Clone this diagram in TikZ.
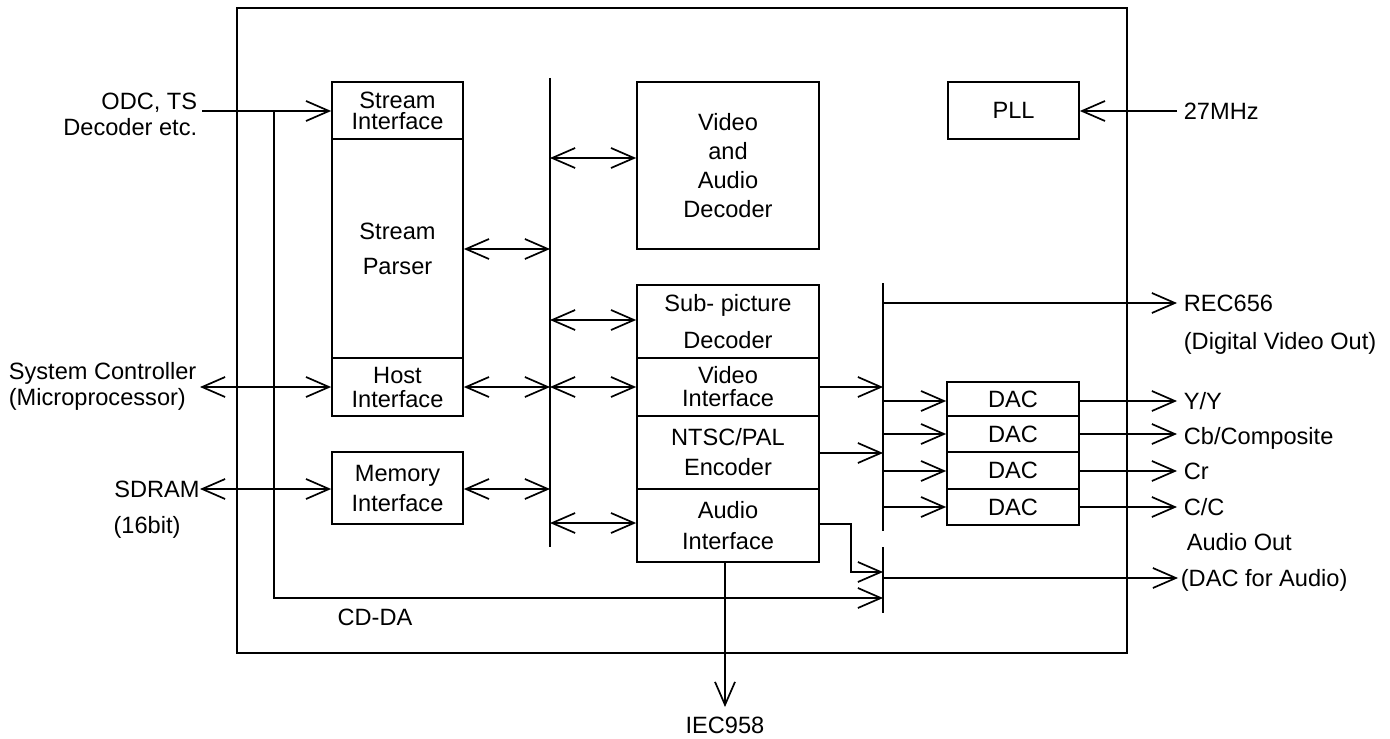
\documentclass[tikz,border=0pt]{standalone}
\usepackage{fontspec}
\setmainfont{Liberation Sans}
\usetikzlibrary{arrows.meta}
\begin{document}
\begin{tikzpicture}[x=0.5pt,y=-0.5pt,
  line width=0.85pt,
  >={Straight Barb[length=11.5pt,width=10pt]},
  blk/.style={draw, inner sep=0pt, align=center},
  lbl/.style={inner sep=0pt, text height=8.45pt, text depth=0pt},
  fs/.style={font=\fontsize{11.8}{#1}\selectfont}]
\useasboundingbox (0,0) rectangle (1390,738);
% outer chip box
\node[draw, inner sep=0pt, minimum width=445pt, minimum height=322.5pt] (chip) at (682,330.5) {};
% left column blocks
\node[blk, fs=10.5, minimum width=65.5pt, minimum height=28.5pt] (si) at (397.5,110.5) {Stream\\Interface};
\node[blk, fs=17.5, minimum width=65.5pt, minimum height=109.5pt] (sp) at (397.5,248.5) {Stream\\Parser};
\node[blk, fs=12, minimum width=65.5pt, minimum height=29pt] (hi) at (397.5,387) {Host\\Interface};
\node[blk, fs=15, minimum width=65.5pt, minimum height=36pt] (mi) at (397.5,488) {Memory\\Interface};
% middle blocks
\node[blk, fs=14.5, minimum width=91pt, minimum height=83.5pt] (vad) at (728,165.5) {Video\\and\\Audio\\Decoder};
\node[blk, fs=18.5, minimum width=91pt, minimum height=36.5pt] (spd) at (728,321.5) {Sub- picture\\Decoder};
\node[blk, fs=11.5, minimum width=91pt, minimum height=29pt] (vi) at (728,387) {Video\\Interface};
\node[blk, fs=15, minimum width=91pt, minimum height=36.5pt] (ntsc) at (728,452.5) {NTSC/PAL\\Encoder};
\node[blk, fs=15.5, minimum width=91pt, minimum height=36.5pt] (ai) at (728,525.5) {Audio\\Interface};
% right blocks
\node[blk, fs=14, minimum width=65.5pt, minimum height=28.5pt] (pll) at (1013.5,110.5) {PLL};
\node[blk, fs=14, minimum width=66pt, minimum height=17pt] (dac1) at (1013,399) {DAC};
\node[blk, fs=14, minimum width=66pt, minimum height=18pt] (dac2) at (1013,434) {DAC};
\node[blk, fs=14, minimum width=66pt, minimum height=18.5pt] (dac3) at (1013,470.5) {DAC};
\node[blk, fs=14, minimum width=66pt, minimum height=18pt] (dac4) at (1013,507) {DAC};
% buses
\coordinate (b1t) at (550,78);  \coordinate (b1b) at (550,547);
\coordinate (b2t) at (883,283); \coordinate (b2b) at (883,531);
\coordinate (b3t) at (883,547); \coordinate (b3b) at (883,613);
\draw (b1t) -- (b1b);
\draw (b2t) -- (b2b);
\draw (b3t) -- (b3b);
% external texts
\node[fs=13, anchor=east, align=right, inner sep=0pt] (odc) at (198,114) {ODC, TS\\Decoder etc.};
\node[fs=13, anchor=west, align=left, inner sep=0pt] (sys) at (8,386) {System Controller\\(Microprocessor)};
\node[lbl, fs=14] (sdram) at (157,489) {SDRAM};
\node[lbl, fs=14] (bit) at (147,525) {(16bit)};
\node[lbl, fs=14, anchor=west] (mhz) at (1183,111) {27MHz};
\node[lbl, fs=14, anchor=west] (rec) at (1183,303) {REC656};
\node[lbl, fs=14, anchor=west] (dvo) at (1183,341) {(Digital Video Out)};
\node[lbl, fs=14, anchor=west] (yy) at (1183,401) {Y/Y};
\node[lbl, fs=14, anchor=west] (cb) at (1183,436) {Cb/Composite};
\node[lbl, fs=14, anchor=west] (cr) at (1183,471) {Cr};
\node[lbl, fs=14, anchor=west] (cc) at (1183,507) {C/C};
\node[lbl, fs=14, anchor=west] (ao) at (1186,542) {Audio Out};
\node[lbl, fs=14, anchor=west] (dfa) at (1180,578) {(DAC for Audio)};
\node[lbl, fs=14] (iec) at (725,725) {IEC958};
\node[lbl, fs=14] (cdda) at (375,617) {CD-DA};
% connector end coordinates
\coordinate (odcE) at (202,111);
\coordinate (cdT) at (274,111);
\coordinate (sysE) at (200,387);
\coordinate (memE) at (200,489);
\coordinate (mhzE) at (1177,111);
\coordinate (iecE) at (725,707);
\coordinate (outX) at (1177,0);
% left inputs
\draw[->] (odcE) -- (odcE -| si.west);
\draw[<->] (sysE) -- (sysE -| hi.west);
\draw[<->] (memE) -- (memE -| mi.west);
% CD-DA
\draw[->] (cdT) |- (b3b |- 0,598);
% blocks to bus 1
\draw[<->] (sp.east |- 0,249) -- (b1t |- 0,249);
\draw[<->] (hi.east |- 0,387) -- (b1t |- 0,387);
\draw[<->] (mi.east |- 0,489) -- (b1t |- 0,489);
\draw[<->] (b1t |- 0,158) -- (vad.west |- 0,158);
\draw[<->] (b1t |- 0,320) -- (spd.west |- 0,320);
\draw[<->] (b1t |- 0,387) -- (vi.west |- 0,387);
\draw[<->] (b1t |- 0,523) -- (ai.west |- 0,523);
% to bus 2 / bus 3
\draw[->] (vi.east |- 0,387) -- (b2t |- 0,387);
\draw[->] (ntsc.east |- 0,453) -- (b2t |- 0,453);
\draw[->] (ai.east |- 0,524) -- (851,524) -- (851,572) -- (b3t |- 0,572);
\draw[->] (iecE |- ai.south) -- (iecE);
% bus 2 outputs
\draw[->] (b2t |- 0,303) -- (outX |- 0,303);
\draw[->] (b2t |- 0,401) -- (dac1.west |- 0,401);
\draw[->] (b2t |- 0,434) -- (dac2.west |- 0,434);
\draw[->] (b2t |- 0,471) -- (dac3.west |- 0,471);
\draw[->] (b2t |- 0,507) -- (dac4.west |- 0,507);
\draw[->] (dac1.east |- 0,401) -- (outX |- 0,401);
\draw[->] (dac2.east |- 0,434) -- (outX |- 0,434);
\draw[->] (dac3.east |- 0,471) -- (outX |- 0,471);
\draw[->] (dac4.east |- 0,507) -- (outX |- 0,507);
\draw[->] (b3t |- 0,578) -- (1178,578);
% PLL
\draw[->] (mhzE) -- (pll.east |- mhzE);
\end{tikzpicture}
\end{document}
